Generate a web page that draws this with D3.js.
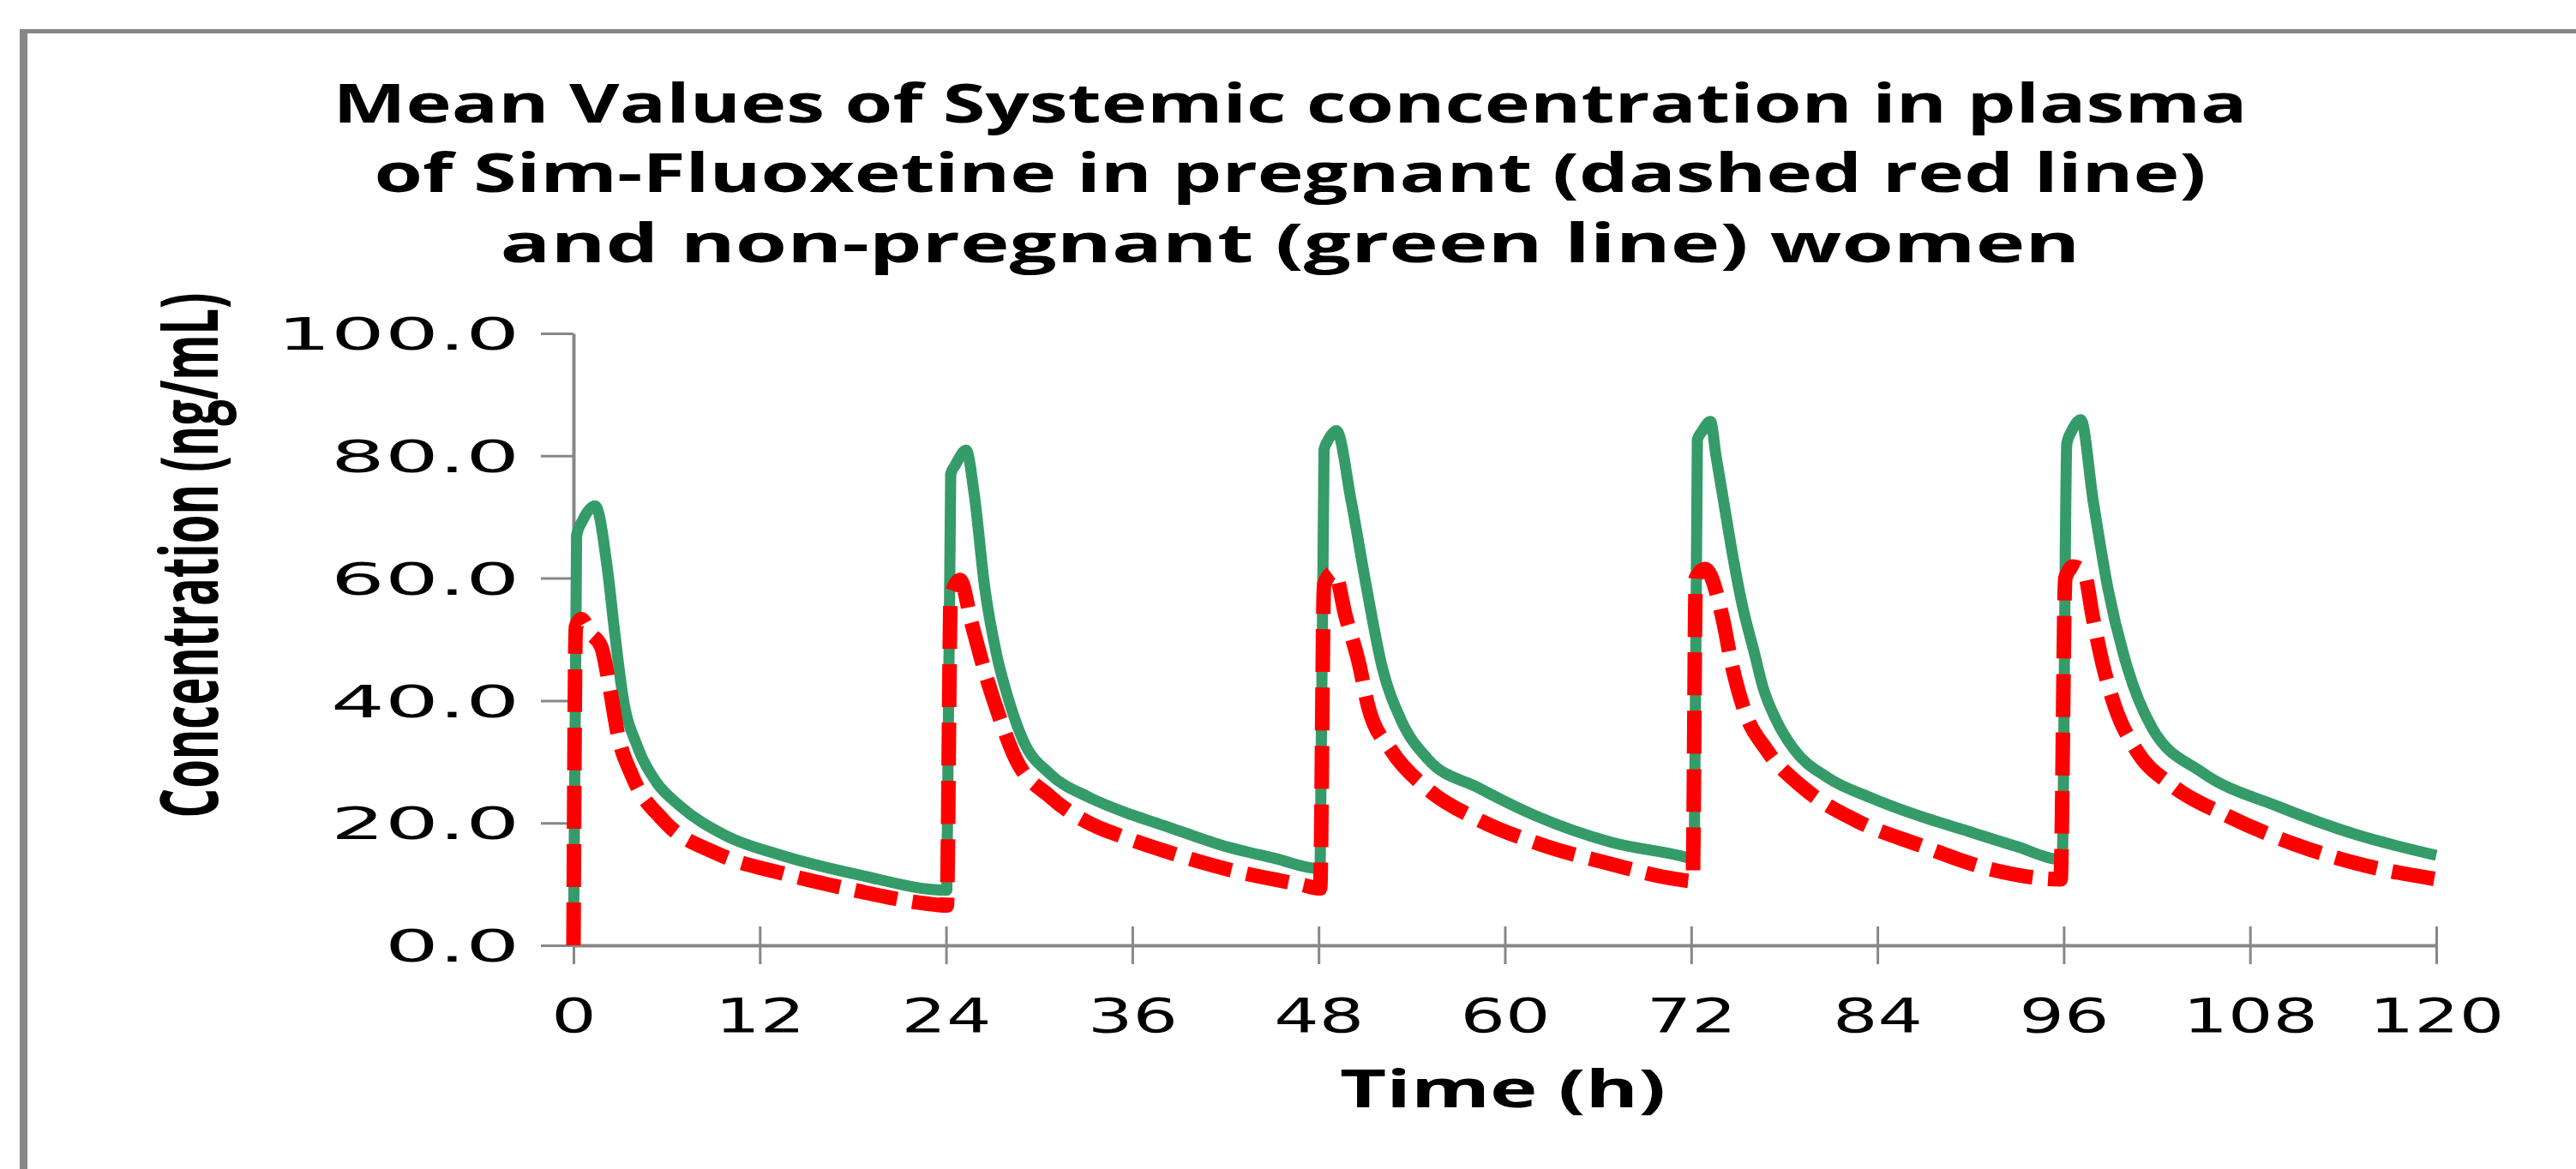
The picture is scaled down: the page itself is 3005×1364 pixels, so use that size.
<!DOCTYPE html>
<html>
<head>
<meta charset="utf-8">
<script src="https://cdn.jsdelivr.net/npm/d3@7"></script>
<style>
  html, body { margin: 0; padding: 0; background: #fff; }
  svg { display: block; }
</style>
</head>
<body>
<svg id="chart" width="3005" height="1364"></svg>
<script>
// ---- data ----
const titleLines = [
  "Mean Values of Systemic concentration in plasma",
  "of Sim-Fluoxetine in pregnant (dashed red line)",
  "and non-pregnant (green line) women"
];
const xTicks = [0, 12, 24, 36, 48, 60, 72, 84, 96, 108, 120];
const yTicks = [0, 20, 40, 60, 80, 100];

// non-pregnant women (green line)
const nonPregTime = [
  0, 0.2, 0.6, 1.4, 2.2, 2.65, 3.2, 4.1, 5.3, 6.8, 9.75, 13.4, 18.4, 24.05,
  24.3, 24.6, 25.3, 25.8, 26.5, 27.25, 28.0, 29.0, 30.7, 33.2, 36.0, 38.0, 41.7, 45.2, 48.1,
  48.35, 48.6, 49.15, 50.1, 51.1, 52.1, 53.3, 55.05, 58.25, 61.95, 66.9, 71.8, 72.2,
  72.4, 72.7, 73.25, 73.6, 74.05, 74.6, 75.3, 76.1, 76.6, 77.5, 78.6, 80.8, 83.6, 86.4, 89.9, 92.9, 95.9,
  96.2, 96.5, 97.1, 97.9, 98.85, 100.1, 101.7, 104.9, 109.9, 114.7, 120
];
const nonPregConc = [
  0, 67, 69.5, 71.8, 61.2, 51.2, 40.4, 32.6, 26.8, 22.9, 18.0, 14.7, 11.5, 9.0,
  77.0, 78.5, 80.9, 74.0, 58.3, 47.6, 40.4, 33.3, 28.0, 24.2, 21.3, 19.6, 16.4, 14.2, 12.5,
  81.0, 82.5, 84.1, 72.6, 58.3, 45.4, 36.9, 30.4, 25.8, 21.2, 16.8, 14.3, 14.0,
  82.6, 84.0, 85.6, 80.0, 73.2, 64.8, 55.5, 47.5, 42.4, 36.7, 32.1, 27.4, 24.1, 21.4, 18.6, 16.2, 14.0,
  82.0, 84.0, 85.9, 72.6, 58.3, 45.4, 35.5, 28.3, 22.6, 18.2, 14.7
];

// pregnant women (dashed red line)
const pregTime = [
  0, 0.15, 0.5, 1.1, 1.8, 2.35, 2.84, 3.8, 5.8, 9.25, 13.4, 18.1, 22.8, 24.05,
  24.3, 24.9, 25.65, 26.5, 27.4, 28.5, 30.7, 33.7, 34.8, 38.0, 42.5, 46.9, 48.1,
  48.35, 49.0, 49.75, 50.6, 51.2, 52.7, 54.9, 58.4, 62.3, 66.8, 71.1, 72.1,
  72.3, 72.9, 74.05, 74.6, 75.4, 76.9, 79.2, 82.7, 86.7, 91.2, 95.8,
  96.1, 96.6, 97.3, 97.9, 98.5, 99.3, 100.7, 103, 106.5, 110.9, 115, 120
];
const pregConc = [
  0, 52, 53.3, 51, 48.7, 41.9, 34.7, 27.6, 20.4, 15.0, 11.8, 9.0, 6.8, 6.5,
  57, 59.7, 52.6, 44.7, 37.6, 30.4, 24.3, 19.4, 18.3, 15.5, 12.2, 9.9, 9.3,
  59, 61, 53.7, 46.1, 39.0, 31.8, 25.8, 20.4, 16.5, 13.3, 10.8, 10.5,
  60, 61.5, 53.2, 46.1, 38.6, 31.8, 25.8, 20.3, 16.4, 12.5, 10.8,
  60, 61.9, 61, 53.3, 46.1, 39, 31.8, 26.1, 21.2, 16.5, 13.3, 10.8
];

// ---- drawing ----
const W = 3005, H = 1364;
const grey = "#878787";
const svg = d3.select("#chart");

svg.append("rect").attr("width", W).attr("height", H).attr("fill", "#fff");

// chart frame (only top and left edges are inside the picture)
svg.append("line").attr("x1", 23).attr("x2", W).attr("y1", 36.5).attr("y2", 36.5)
  .attr("stroke", grey).attr("stroke-width", 5);
svg.append("line").attr("x1", 27.5).attr("x2", 27.5).attr("y1", 34).attr("y2", H)
  .attr("stroke", grey).attr("stroke-width", 9);

// text in the reference is stretched sideways: scale it about its anchor point
function widen(sel, dx, dy, k) {
  sel.attr("x", 0).attr("y", 0)
    .attr("transform", `translate(${dx},${dy}) scale(${k},1)`);
}

const x = d3.scaleLinear().domain([0, 120]).range([669, 2842]);
const y = d3.scaleLinear().domain([0, 100]).range([1103, 389]);

// title
const titleWidths = [2233, 2137, 1843];
const titleBase = [143, 224, 306];
svg.append("g").selectAll("text")
  .data(titleLines)
  .enter().append("text")
  .attr("x", 1505)
  .attr("y", (d, i) => titleBase[i])
  .attr("text-anchor", "middle")
  .attr("font-family", "'Open Sans', 'DejaVu Sans', sans-serif")
  .attr("font-weight", 700)
  .attr("font-size", 63)
  .attr("textLength", (d, i) => titleWidths[i])
  .attr("lengthAdjust", "spacingAndGlyphs")
  .text(d => d);

// y axis
const yAxis = svg.append("g")
  .attr("transform", "translate(669,0)")
  .call(d3.axisLeft(y).tickValues(yTicks).tickSize(38).tickSizeOuter(0)
    .tickFormat(d3.format(".1f")));
yAxis.select(".domain").attr("stroke", grey).attr("stroke-width", 4);
yAxis.selectAll(".tick line").attr("stroke", grey).attr("stroke-width", 3);
yAxis.selectAll(".tick text")
  .attr("font-family", "'DejaVu Sans', sans-serif")
  .attr("font-size", 52)
  .attr("fill", "#000")
  .attr("text-anchor", "end")
  .attr("dy", "0.36em")
  .call(widen, -63, 0, 1.9);

// x axis
const xAxis = svg.append("g")
  .attr("transform", "translate(0,1103)")
  .call(d3.axisBottom(x).tickValues(xTicks).tickSize(22).tickSizeOuter(0));
xAxis.select(".domain").attr("stroke", grey).attr("stroke-width", 4);
xAxis.selectAll(".tick line").attr("y1", -22).attr("stroke", grey).attr("stroke-width", 3);
xAxis.selectAll(".tick text")
  .attr("dy", 0)
  .attr("font-family", "'DejaVu Sans', sans-serif")
  .attr("font-size", 55)
  .attr("fill", "#000")
  .attr("text-anchor", "middle")
  .call(widen, 0, 101, 1.5);

// axis titles
const yTitle = svg.append("text")
  .attr("text-anchor", "middle")
  .attr("font-family", "'Open Sans', sans-serif")
  .attr("font-weight", 700)
  .attr("font-size", 94)
  .text("Concentration (ng/mL)");
const yTitleLen = yTitle.node().getComputedTextLength();
yTitle.attr("transform", `translate(254,648) rotate(-90) scale(${613 / yTitleLen},1)`);

svg.append("text")
  .attr("x", 1753).attr("y", 1292)
  .attr("text-anchor", "middle")
  .attr("font-family", "'Open Sans', sans-serif")
  .attr("font-weight", 700)
  .attr("font-size", 60)
  .attr("textLength", 380)
  .attr("lengthAdjust", "spacingAndGlyphs")
  .text("Time (h)");

// series
const line = d3.line()
  .x(d => x(d[0]))
  .y(d => y(d[1]))
  .curve(d3.curveMonotoneX);

svg.append("path")
  .datum(nonPregTime.map((t, i) => [t, nonPregConc[i]]))
  .attr("d", line)
  .attr("fill", "none")
  .attr("stroke", "#359b69")
  .attr("stroke-width", 13)
  .attr("stroke-linejoin", "round");

svg.append("path")
  .datum(pregTime.map((t, i) => [t, pregConc[i]]))
  .attr("d", line)
  .attr("fill", "none")
  .attr("stroke", "#ff0000")
  .attr("stroke-width", 17)
  .attr("stroke-dasharray", "50,18")
  .attr("stroke-linejoin", "round");
</script>
</body>
</html>
